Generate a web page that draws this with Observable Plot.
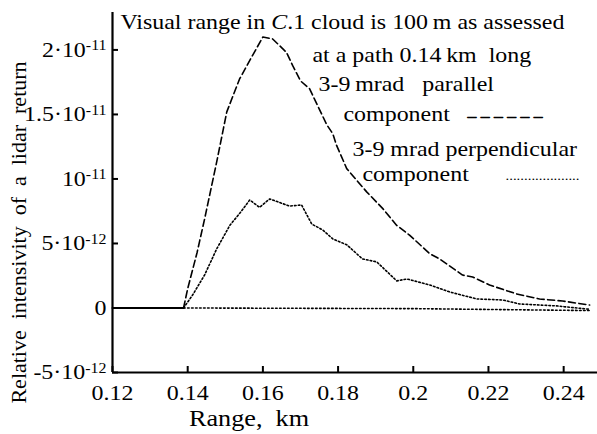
<!DOCTYPE html>
<html><head><meta charset="utf-8">
<script src="https://cdn.jsdelivr.net/npm/d3@7"></script>
<script src="https://cdn.jsdelivr.net/npm/@observablehq/plot@0.6"></script>
<style>
body{margin:0;background:#fff;}
#chart{width:597px;height:434px;overflow:hidden;}
#chart svg{font-family:"Liberation Serif","Times New Roman",serif;}
</style></head><body><div id="chart"></div>
<script>
// Range, km
const parallelRange = [0.1389,0.1400,0.1425,0.1445,0.1477,0.1504,0.1538,0.1573,0.1600,0.1626,0.1663,0.1679,0.1700,0.1724,0.1770,0.1786,0.1796,0.1823,0.1876,0.1919,0.1956,0.1990,0.2044,0.2070,0.2131,0.2158,0.2203,0.2275,0.2336,0.2397,0.2469];
// Relative intensity, units of 1e-12
const parallelValue = [0,1.5,4.3,6.9,11.3,15.2,17.75,19.6,21.0,20.85,19.8,18.8,17.6,17.0,14.2,13.5,12.6,10.8,9.0,7.7,6.4,5.65,4.2,3.8,2.55,2.4,1.78,1.09,0.7,0.54,0.23];
const perpRange = [0.1389,0.1413,0.1445,0.1477,0.1512,0.1540,0.1565,0.1591,0.1618,0.1671,0.1703,0.1730,0.1759,0.1786,0.1823,0.1865,0.1903,0.1956,0.1983,0.2044,0.2097,0.2169,0.2238,0.2283,0.2381,0.2469];
const perpValue = [0,1.0,2.56,4.57,6.4,7.4,8.37,7.8,8.45,7.9,7.98,6.5,6.05,5.35,4.9,3.8,3.57,2.1,2.25,1.78,1.24,0.7,0.62,0.31,0.16,-0.1];
const baseRange = [0.12,0.1389];
const baseValue = [0,0];
const zeroRange = [0.1389,0.2,0.2469];
const zeroValue = [0,-0.05,-0.2];

const xTicks = [0.12,0.14,0.16,0.18,0.2,0.22,0.24];
const xTickLabels = ["0.12","0.14","0.16","0.18","0.2","0.22","0.24"];
const yTicks = [-5,0,5,10,15,20];
const yTickBase = ["-5\u00b710","0","5\u00b710","10","1.5\u00b710","2\u00b710"];
const yTickExp = ["-12","","-12","-11","-11","-11"];

const xLabel = "Range,\u00a0\u00a0km";
const yLabel = "Relative\u00a0\u00a0intensivity\u00a0\u00a0of\u00a0\u00a0a\u00a0\u00a0lidar\u00a0\u00a0return";
const noteLines = [
  "Visual range in C.1 cloud is 100\u2009m as assessed",
  "at a path 0.14\u2009km\u00a0\u00a0long",
  "3-9\u2009mrad\u00a0\u00a0\u00a0parallel",
  "component",
  "3-9 mrad perpendicular",
  "component"
];
const dashSample = "\u2013 \u2013 \u2013 \u2013 \u2013 \u2013";
const dotSample = "....................";

const toRows = (xs, ys) => xs.map((x, i) => ({x, y: ys[i]}));
const parallel = toRows(parallelRange, parallelValue);
const perp = toRows(perpRange, perpValue);
const base = toRows(baseRange, baseValue);
const zero = toRows(zeroRange, zeroValue);

const fs = 21;
const note = (text, dx, baseline, size = fs, extra = {}) =>
  Plot.text([text], {frameAnchor: "top-left", textAnchor: "start", lineAnchor: "top",
    dx, dy: baseline - 12 - 0.71 * size, fontSize: size, fill: "#000", ...extra});

const chart = Plot.plot({
  width: 597, height: 434,
  marginLeft: 112, marginRight: 0, marginTop: 12, marginBottom: 62,
  x: {domain: [0.12, 0.249], axis: null},
  y: {domain: [-5, 22.9], axis: null},
  style: {fontFamily: '"Liberation Serif","Times New Roman",serif', background: "#fff", color: "#000"},
  marks: [
    Plot.axisX({ticks: xTicks, tickFormat: (d, i) => xTickLabels[i], tickSize: 0, tickPadding: 13, fontSize: fs, label: null}),
    Plot.axisY({ticks: yTicks, tickFormat: (d, i) => "\u00a7" + i, tickSize: 0, tickPadding: 6, fontSize: fs, label: null}),
    Plot.ruleX(xTicks, {insetTop: 354, strokeWidth: 2}),
    Plot.ruleY(yTicks, {insetRight: 479, strokeWidth: 2}),
    Plot.ruleX([0.12], {strokeWidth: 2.2}),
    Plot.ruleY([-5], {strokeWidth: 2.2}),
    Plot.line(base, {x: "x", y: "y", strokeWidth: 2}),
    Plot.line(zero, {x: "x", y: "y", strokeWidth: 1.6, strokeDasharray: "1.6 2.4"}),
    Plot.line(perp, {x: "x", y: "y", strokeWidth: 1.6, strokeDasharray: "1.6 2.2"}),
    Plot.line(parallel, {x: "x", y: "y", strokeWidth: 1.6, strokeDasharray: "7 3.5"}),
    note(noteLines[0], 8, 28),
    note(noteLines[1], 200, 61),
    note(noteLines[2], 206, 90),
    note(noteLines[3], 231, 120),
    note(noteLines[4], 240, 155),
    note(noteLines[5], 250, 180),
    note(dashSample, 355, 120, 15.5, {stroke: "#000", strokeWidth: 0.6}),
    note(dotSample, 393, 179, 13),
    Plot.text([xLabel], {frameAnchor: "bottom", dx: -106, dy: 53, fontSize: 23, lineAnchor: "bottom"}),
    Plot.text([yLabel], {frameAnchor: "left", rotate: -90, dx: -94, dy: 40, fontSize: 22, textAnchor: "middle", lineAnchor: "middle"})
  ]
});
document.getElementById("chart").appendChild(chart);

const svg = d3.select(chart);
svg.selectAll("text").each(function() {
  const t = d3.select(this);
  const s = t.text();
  if (s.startsWith("\u00a7")) {
    const i = +s.slice(1);
    t.text(null);
    t.append("tspan").text(yTickBase[i]);
    if (yTickExp[i]) t.append("tspan").attr("dy", "-0.45em").attr("font-size", 14).text(yTickExp[i]);
  } else if (s === noteLines[0]) {
    const k = s.indexOf("C.");
    t.text(null);
    t.append("tspan").text(s.slice(0, k));
    t.append("tspan").attr("font-style", "italic").text("C");
    t.append("tspan").text(s.slice(k + 1));
  }
});
// the reference's lettering is horizontally widened: stretch non-rotated texts about their anchors
svg.selectAll("text").each(function() {
  const tr = this.getAttribute("transform");
  if (tr && tr.includes("rotate")) return;
  if (tr) this.setAttribute("transform", tr + " scale(1.14,1)");
  else {
    const x = +(this.getAttribute("x") || 0), y = +(this.getAttribute("y") || 0);
    this.removeAttribute("x"); this.removeAttribute("y");
    this.setAttribute("transform", `translate(${x},${y}) scale(1.14,1)`);
  }
});
</script></body></html>
